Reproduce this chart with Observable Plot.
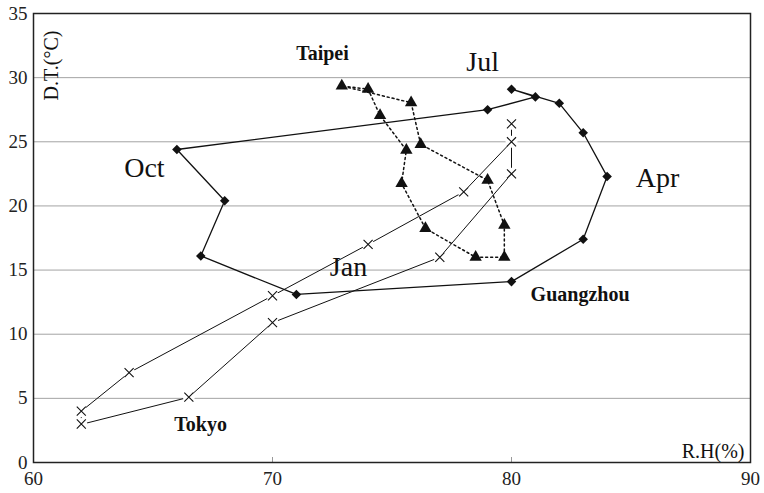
<!DOCTYPE html>
<html>
<head>
<meta charset="utf-8">
<script src="https://cdn.jsdelivr.net/npm/d3@7"></script>
<script src="https://cdn.jsdelivr.net/npm/@observablehq/plot@0.6"></script>
<style>
  html, body { margin: 0; padding: 0; background: #fff; }
  svg { display: block; }
  svg text { font-family: 'Liberation Serif','Times New Roman',serif !important; }
</style>
</head>
<body>
<div id="chart"></div>
<script>
const months = ["Jan","Feb","Mar","Apr","May","Jun","Jul","Aug","Sep","Oct","Nov","Dec"];

// Guangzhou (diamonds, solid line)
const guangzhouRH = [71.0, 80.0, 83.0, 84.0, 83.0, 82.0, 80.0, 81.0, 79.0, 66.0, 68.0, 67.0];
const guangzhouDT = [13.1, 14.1, 17.4, 22.3, 25.7, 28.0, 29.1, 28.5, 27.5, 24.4, 20.4, 16.1];

// Tokyo (crosses, solid line)
const tokyoRH = [62.0, 62.0, 64.0, 70.0, 74.0, 78.0, 80.0, 80.0, 80.0, 77.0, 70.0, 66.5];
const tokyoDT = [3.0, 4.0, 7.0, 13.0, 17.0, 21.1, 25.0, 26.4, 22.5, 16.0, 10.9, 5.1];

// Taipei (triangles, dotted line)
const taipeiRH = [78.5, 79.7, 79.7, 79.0, 76.2, 75.8, 72.9, 74.0, 74.5, 75.6, 75.4, 76.4];
const taipeiDT = [16.0, 16.0, 18.5, 22.0, 24.8, 28.05, 29.35, 29.1, 27.05, 24.35, 21.75, 18.25];

const xTicks = [60, 70, 80, 90];
const xInnerTicks = [70, 80];
const yTicks = [0, 5, 10, 15, 20, 25, 30, 35];
const yGrid = [5, 10, 15, 20, 25, 30];

const mk = (rh, dt) => months.map((m, i) => ({month: m, rh: rh[i], dt: dt[i]}));
const guangzhou = mk(guangzhouRH, guangzhouDT);
const tokyo = mk(tokyoRH, tokyoDT);
const taipei = mk(taipeiRH, taipeiDT);

const serif = "'Liberation Serif','Times New Roman',serif";
const ink = "#111";

const chart = Plot.plot({
  width: 764,
  height: 493,
  marginLeft: 33,
  marginRight: 14,
  marginTop: 13,
  marginBottom: 31,
  x: {domain: [60, 90]},
  y: {domain: [0, 35]},
  style: {fontFamily: serif, background: "#fff", color: "#222"},
  marks: [
    Plot.ruleY(yGrid, {stroke: "#a3a3a3", strokeWidth: 1}),
    Plot.axisY({ticks: yTicks, tickSize: 0, tickPadding: 6, fontSize: 19, fontFamily: serif, fill: "#222", label: null}),
    Plot.axisX({ticks: xTicks, tickSize: 0, tickPadding: 9, fontSize: 19, fontFamily: serif, fill: "#222", label: null}),
    Plot.axisX({ticks: xInnerTicks, tickSize: 5, dy: -5, tickFormat: () => "", stroke: "#999", label: null}),

    // Tokyo
    Plot.line(tokyo, {x: "rh", y: "dt", curve: "linear-closed", stroke: ink, strokeWidth: 1}),
    Plot.dot(tokyo, {x: "rh", y: "dt", r: 6, fill: "#fff", stroke: "none"}),
    Plot.dot(tokyo, {x: "rh", y: "dt", symbol: "times", r: 4.2, stroke: ink, strokeWidth: 1.1}),

    // Taipei
    Plot.line(taipei, {x: "rh", y: "dt", curve: "linear-closed", stroke: ink, strokeWidth: 1.5, strokeDasharray: "2 3"}),
    Plot.dot(taipei, {x: "rh", y: "dt", symbol: "triangle", r: 4.6, fill: ink, stroke: "none"}),

    // Guangzhou
    Plot.line(guangzhou, {x: "rh", y: "dt", curve: "linear-closed", stroke: ink, strokeWidth: 1.3}),
    Plot.dot(guangzhou, {x: "rh", y: "dt", symbol: "diamond2", r: 4.3, fill: ink, stroke: "none"}),

    Plot.frame({stroke: "#222", strokeWidth: 1.5}),

    // Annotations
    Plot.text(["Taipei"], {x: [72.09], y: [31.84], fontSize: 20, fontWeight: "bold", fontFamily: serif, fill: ink}),
    Plot.text(["Guangzhou"], {x: [82.87], y: [13.06], fontSize: 20, fontWeight: "bold", fontFamily: serif, fill: ink}),
    Plot.text(["Tokyo"], {x: [66.99], y: [2.95], fontSize: 20, fontWeight: "bold", fontFamily: serif, fill: ink}),
    Plot.text(["Jul"], {x: [78.79], y: [31.18], fontSize: 28, fontFamily: serif, fill: ink}),
    Plot.text(["Oct"], {x: [64.64], y: [22.95], fontSize: 28, fontFamily: serif, fill: ink}),
    Plot.text(["Apr"], {x: [86.11], y: [22.21], fontSize: 28, fontFamily: serif, fill: ink}),
    Plot.text(["Jan"], {x: [73.18], y: [15.2], fontSize: 28, fontFamily: serif, fill: ink}),

    // Axis titles
    Plot.text(["D.T.(°C)"], {frameAnchor: "top-left", dx: 18, dy: 52, rotate: -90, textAnchor: "middle", lineAnchor: "middle", fontSize: 20, fontFamily: serif, fill: ink}),
    Plot.text(["R.H(%)"], {frameAnchor: "bottom-right", dx: -6, dy: -5, textAnchor: "end", lineAnchor: "bottom", fontSize: 20, fontFamily: serif, fill: ink})
  ]
});

document.getElementById("chart").appendChild(chart);
</script>
</body>
</html>
